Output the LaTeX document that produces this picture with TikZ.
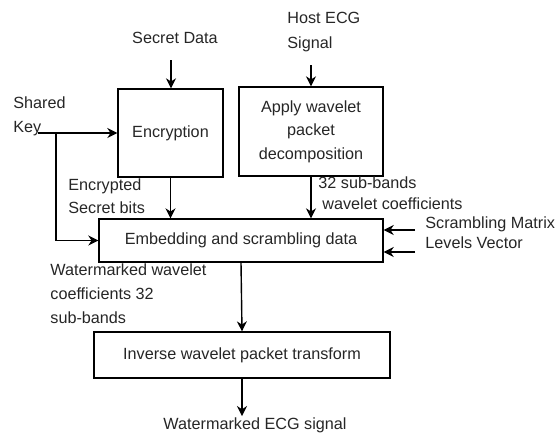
\documentclass[tikz,border=0pt]{standalone}
\usepackage{fontspec}
\setmainfont{Liberation Sans}
\usetikzlibrary{arrows.meta}
\begin{document}
\begin{tikzpicture}[
  x=0.5pt, y=-0.5pt,
  every node/.style={font=\fontsize{8.1}{11.8}\selectfont, text=black!85},
  block/.style={draw, line width=0.7pt, inner sep=0pt, align=center},
  lbl/.style={inner sep=0pt, align=left},
  flow/.style={draw, line width=0.7pt, -{Stealth[length=5pt,width=5pt]}},
]
\useasboundingbox (0,0) rectangle (555,436);

% processing blocks
\node[block, minimum width=52.5pt, minimum height=44pt] (enc) at (170.5,133) {Encryption};
\node[block, minimum width=72pt, minimum height=44.5pt] (wpd) at (311,131.5)
  {Apply wavelet\\packet\\decomposition};
\node[block, minimum width=142pt, minimum height=21.5pt] (emb) at (241,240.5)
  {Embedding and scrambling data};
\node[block, minimum width=148pt, minimum height=23pt] (inv) at (242,355)
  {Inverse wavelet packet transform};

% inputs and outputs
\node[lbl] (sd) at (175,38) {Secret Data};
\node[lbl, anchor=west, font=\fontsize{8.1}{12.5}\selectfont] (host) at (287,32.5) {Host ECG\\Signal};
\node[lbl, anchor=west] (key) at (13,116.5) {Shared\\Key};
\node[lbl, anchor=west] (sm) at (425,224) {Scrambling Matrix};
\node[lbl, anchor=west] (lv) at (425,243) {Levels Vector};
\node[lbl] (out) at (255,425) {Watermarked ECG signal};

% connector labels
\node[lbl, anchor=west] (encbits) at (68,196) {Encrypted\\Secret bits};
\node[lbl, anchor=west] (sb1) at (318,183) {32 sub-bands};
\node[lbl, anchor=west] (sb2) at (322,204) {wavelet coefficients};
\node[lbl, anchor=west, font=\fontsize{8.1}{12}\selectfont] (wmc) at (50,294)
  {Watermarked wavelet\\coefficients 32\\sub-bands};

% connector waypoints
\coordinate (keyend) at (38,133);
\coordinate (split) at (56,133);
\coordinate (sdtop) at (171,60);
\coordinate (hosttop) at (311,65);
\coordinate (smstart) at (415,230);
\coordinate (lvstart) at (415,252);
\coordinate (outend) at (242,416);

% connectors
\draw[flow] (sdtop) -- (sdtop |- enc.north);
\draw[flow] (hosttop) -- (hosttop |- wpd.north);
\draw[flow] (keyend) -- (enc.west |- keyend);
\draw[flow] (split) |- (emb.west);
\draw[flow] (enc.south) -- (enc.south |- emb.north);
\draw[flow] (wpd.south) -- (wpd.south |- emb.north);
\draw[flow] (smstart) -- (emb.east |- smstart);
\draw[flow] (lvstart) -- (emb.east |- lvstart);
\draw[flow] (emb.south) -- (inv.north);
\draw[flow] (inv.south) -- (outend);
\end{tikzpicture}
\end{document}
